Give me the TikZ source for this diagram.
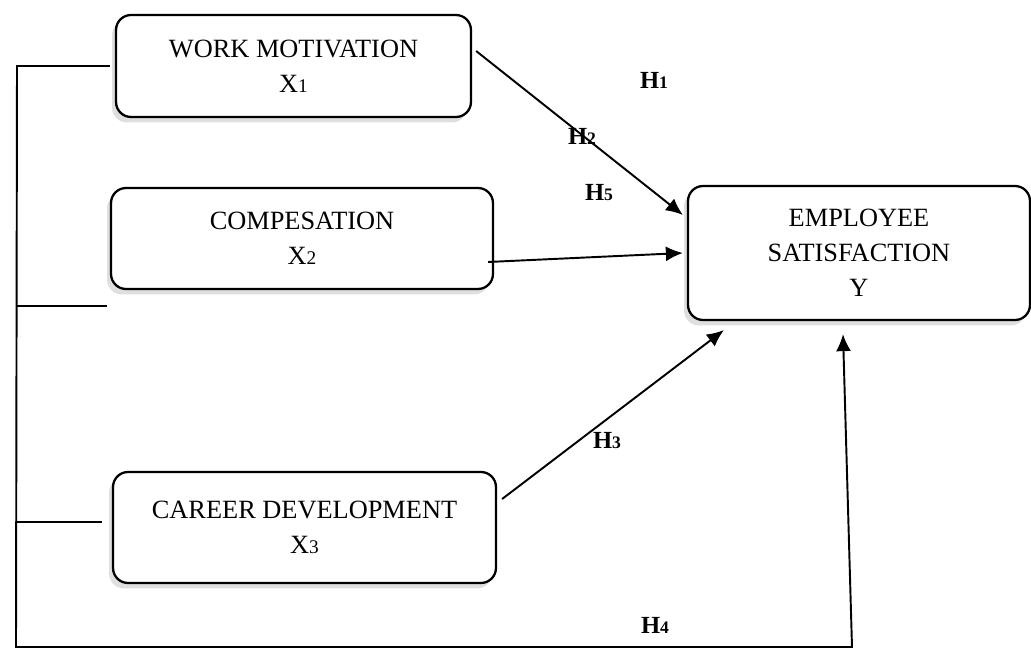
\documentclass[tikz,border=0pt]{standalone}
\usepackage{fontspec}
\setmainfont{Liberation Serif}
\usetikzlibrary{arrows.meta,shadows}

\newcommand{\xnum}[1]{{\fontsize{11}{11}\selectfont #1}}
\newcommand{\hnum}[1]{{\fontsize{10}{10}\selectfont\bfseries #1}}

\begin{document}
\begin{tikzpicture}[x=0.02cm, y=-0.02cm,
  varbox/.style={draw, line width=1.3pt, rounded corners=0.3cm, fill=white,
    align=center, inner sep=0pt, font=\fontsize{15}{20}\selectfont,
    drop shadow={shadow xshift=-0.08cm, shadow yshift=-0.11cm, opacity=0.25}},
  link/.style={line width=1.1pt},
  effect/.style={link, -{Latex[length=0.34cm,width=0.3cm]}},
  hlab/.style={font=\fontsize{14}{14}\selectfont\bfseries, inner sep=0pt}]
  \useasboundingbox (0,0) rectangle (1031,648);

  % variables
  \node[varbox, minimum width=7.1cm, minimum height=2.04cm] (wm) at (293.5,66)
    {WORK MOTIVATION\\X\xnum{1}};
  \node[varbox, minimum width=7.64cm, minimum height=2.02cm] (comp) at (302,238.5)
    {COMPESATION\\X\xnum{2}};
  \node[varbox, minimum width=7.66cm, minimum height=2.22cm] (cd) at (304.5,527.5)
    {CAREER DEVELOPMENT\\X\xnum{3}};
  \node[varbox, minimum width=6.84cm, minimum height=2.68cm] (es) at (859,253)
    {EMPLOYEE\\SATISFACTION\\Y};

  % partial effects
  \draw[effect] ([xshift=0.08cm,yshift=0.3cm]wm.east) -- ([xshift=-0.08cm,yshift=0.76cm]es.west);
  \draw[effect] ([xshift=-0.12cm,yshift=-0.47cm]comp.east) -- ([xshift=-0.08cm]es.west);
  \draw[effect] ([xshift=0.1cm,yshift=0.57cm]cd.east) -- ([xshift=0.74cm,yshift=-0.18cm]es.south west);

  % joint effect
  \coordinate (tl) at (17,66);
  \coordinate (bl) at (16,647);
  \coordinate (br) at (852,647);
  \coordinate (m1) at (16,306);
  \coordinate (m1e) at (107,306);
  \coordinate (m2) at (16,522);
  \draw[effect] ([xshift=-0.1cm]wm.west) -- (tl) -- (bl) -- (br)
    -- ([xshift=-0.32cm,yshift=-0.26cm]es.south);
  \draw[link] (m1) -- (m1e);
  \draw[link] (m2) -- ([xshift=-0.2cm,yshift=0.11cm]cd.west);

  % hypotheses
  \node[hlab] (h1) at (654,80) {H\hnum{1}};
  \node[hlab] (h2) at (582,136) {H\hnum{2}};
  \node[hlab] (h5) at (599,193) {H\hnum{5}};
  \node[hlab] (h3) at (607,441) {H\hnum{3}};
  \node[hlab] (h4) at (655,625) {H\hnum{4}};
\end{tikzpicture}
\end{document}
